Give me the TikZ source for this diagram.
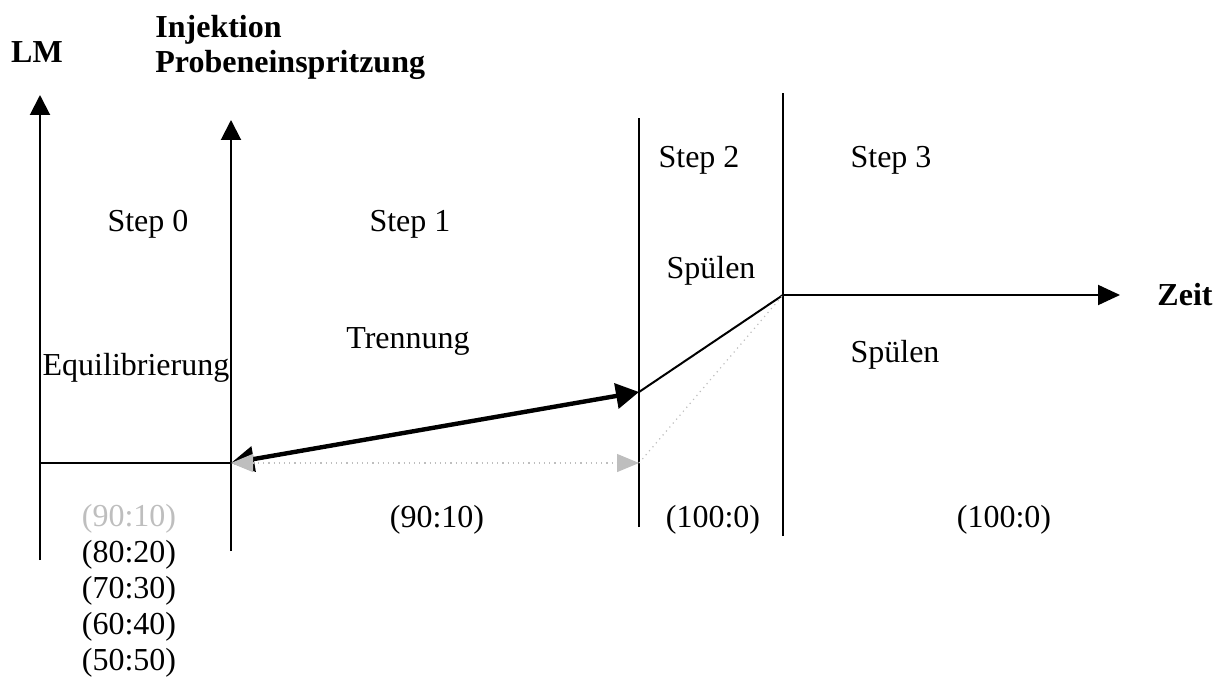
\documentclass[tikz,border=0pt]{standalone}
\usepackage{fontspec}
\setmainfont{Liberation Serif}
\usetikzlibrary{arrows.meta}
\definecolor{paleGray}{RGB}{190,190,190}
\begin{document}
\begin{tikzpicture}[x=0.5pt,y=-0.5pt,
  lbl/.style={anchor=base,inner sep=0pt,font=\fontsize{16}{18}\selectfont},
  hdr/.style={anchor=base,inner sep=0pt,font=\fontsize{16}{18}\selectfont\bfseries},
  rule/.style={line width=1pt},
  axis/.style={line width=1pt,-{Triangle[length=10pt,width=10pt]}},
  timeaxis/.style={line width=1pt,-{Triangle[length=11pt,width=10pt]}},
  gradient/.style={line width=2.2pt,{Triangle[length=11.5pt,width=12.5pt]}-{Triangle[length=11.5pt,width=12.5pt]}},
  isocratic/.style={paleGray,line width=0.6pt,dotted,{Triangle[length=11pt,width=9pt]}-{Triangle[length=11pt,width=9pt]}},
  ramp/.style={line width=1pt},
  ghostramp/.style={paleGray,line width=0.6pt,dotted}
]
\useasboundingbox (0,0) rectangle (1229,679);

% key points of the time axis
\coordinate (lmTop) at (40,95);
\coordinate (lmBot) at (40,560);
\coordinate (injTop) at (231,120);
\coordinate (injBot) at (231,551);
\coordinate (s2Top) at (639,118);
\coordinate (s2Bot) at (639,527);
\coordinate (s3Top) at (783,93);
\coordinate (s3Bot) at (783,536);
\coordinate (eqStart) at (40,463);
\coordinate (injPt) at (231,463);
\coordinate (gradEnd) at (639,392);
\coordinate (isoEnd) at (639,463);
\coordinate (flush) at (783,295);
\coordinate (timeEnd) at (1120,295);

% axes and step boundaries
\draw[axis] (lmBot) -- (lmTop);
\draw[axis] (injBot) -- (injTop);
\draw[rule] (s2Bot) -- (s2Top);
\draw[rule] (s3Bot) -- (s3Top);

% solvent programme
\draw[rule] (eqStart) -- (injPt);
\draw[ramp] (gradEnd) -- (flush);
\draw[ghostramp] (isoEnd) -- (flush);
\draw[timeaxis] (flush) -- (timeEnd);
\draw[gradient] (injPt) -- (gradEnd);
\draw[isocratic] (injPt) -- (isoEnd);

% headings
\node[hdr] (lm) at (37,63) {LM};
\node[hdr,anchor=base west] (inj) at (155,38) {Injektion};
\node[hdr,anchor=base west] (probe) at (155,73) {Probeneinspritzung};
\node[hdr] (zeit) at (1185,305) {Zeit};

% step labels
\node[lbl] (step0) at (148,231) {Step 0};
\node[lbl] (step1) at (410,231) {Step 1};
\node[lbl] (step2) at (699,168) {Step 2};
\node[lbl] (step3) at (891,168) {Step 3};
\node[lbl] (equi) at (136,375) {Equilibrierung};
\node[lbl] (trenn) at (408,348) {Trennung};
\node[lbl] (spuelA) at (711,278) {Spülen};
\node[lbl] (spuelB) at (895,362) {Spülen};

% solvent ratios
\node[lbl,paleGray] (r0a) at (129,526) {(90:10)};
\node[lbl] (r0b) at (129,562) {(80:20)};
\node[lbl] (r0c) at (129,598) {(70:30)};
\node[lbl] (r0d) at (129,634) {(60:40)};
\node[lbl] (r0e) at (129,670) {(50:50)};
\node[lbl] (r1) at (437,527) {(90:10)};
\node[lbl] (r2) at (713,527) {(100:0)};
\node[lbl] (r3) at (1004,527) {(100:0)};
\end{tikzpicture}
\end{document}
